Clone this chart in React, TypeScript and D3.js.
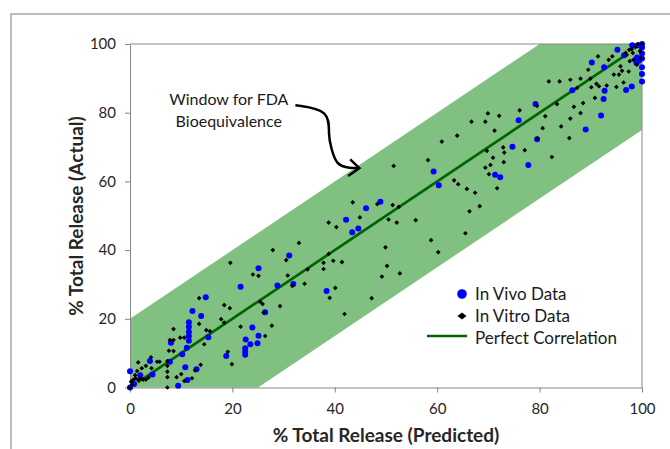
import React, { useEffect, useRef } from 'react';
import * as d3 from 'd3';

// data ------------------------------------------------------------
// [predicted %, actual %]
const inVivo: [number, number][] = [
  [0, 0], [0, 4.7], [0.8, 1.0], [2, 3.6], [3.9, 7.7], [4.4, 3.8], [7.8, 7.5], [8, 13.0],
  [9.4, 0.5], [10.2, 9.7], [10.8, 5.9], [11.2, 2.2], [11.1, 11.6], [11.5, 13.6], [11.5, 15.0],
  [11.5, 16.2], [11.5, 17.7], [11.5, 19.0], [12.2, 22.3], [13, 5.3], [13.9, 20.8], [14.8, 26.3],
  [15.3, 14.6], [18.8, 9.2], [21.6, 29.3], [22.5, 9.5], [22.5, 10.4], [22.5, 11.4], [22.6, 14.0],
  [23.5, 12.6], [23.9, 17.5], [24.9, 12.9], [25.1, 15.1], [25.1, 34.7], [26.4, 21.9], [28.8, 29.7],
  [31.1, 38.4], [31.9, 30.1], [38.4, 28.1], [42.2, 48.8], [43.4, 45.2], [44.6, 46.3], [46.1, 52.2],
  [48.9, 54.1], [59.3, 62.9], [60.3, 58.9], [71.3, 61.9], [72.3, 61.2], [74.7, 70.1], [75.9, 77.8],
  [77.8, 64.8], [79.2, 82.5], [79.5, 72.3], [86.4, 86.5], [89, 75.1], [90.2, 94.6], [92, 79.2],
  [92.5, 84], [92.7, 86.4], [92.6, 93.2], [95.2, 98.3], [96.5, 96.7], [96.9, 86.6], [98, 87.6],
  [98.1, 99.6], [99, 96.1], [99.2, 99.6], [100, 100], [100, 99], [100, 97.2], [100, 95.8],
  [100, 93.2], [100, 91.3], [100, 89.1], [99.4, 95.1], [98.9, 94.5],
];

const inVitro: [number, number][] = [
  [0, 0], [0.2, 1.7], [0.6, 2.2], [1, 3.6], [1.1, 2.7], [1.6, 2.2], [2.1, 2.7], [2.6, 2.3],
  [3.1, 2.3], [1.4, 4.8], [1.6, 7.3], [2.3, 5.6], [3.1, 6.3], [4.2, 5.6], [4.1, 8.8], [5.3, 7.5],
  [5.8, 7.5], [0.4, 0.8], [3.6, 2.9], [7.3, 7.7], [7.3, 6.3], [7.3, 4.6], [7.3, 3.0], [7.3, 0],
  [7.6, 10.7], [8.5, 10.6], [7.8, 13.8], [8.5, 13.8], [8.5, 17.0], [9.1, 3.0], [10, 3.9],
  [10.6, 1.9], [12.1, 2.7], [9.8, 14.5], [10.6, 14.5], [12.7, 5], [13.5, 26], [13.5, 18.5],
  [13.8, 6.6], [14.5, 12.6], [14.9, 16.7], [15.6, 16.4], [17.8, 19.9], [18.4, 18.9], [18.4, 24.0],
  [19.1, 10.4], [19.5, 23.1], [19.6, 36.3], [19.9, 6.8], [21.6, 17.7], [24, 32.9], [25.1, 32.5],
  [25.4, 25.0], [25.9, 24.3], [26.1, 21.8], [26.4, 15], [27.7, 18], [27.9, 40], [29.3, 23.7],
  [30.5, 37.1], [30.8, 32.6], [31.7, 29.6], [33, 42.1], [34.1, 30.2], [34.7, 34.4], [37.8, 36.3],
  [37.8, 34.5], [38.8, 38.9], [38.8, 48], [39.7, 36.9], [39, 26.1], [40.1, 29], [40.3, 46.7],
  [41.4, 36.5], [41.9, 21.4], [43.5, 53.9], [44.9, 49.5], [47.2, 26], [48.3, 53.4], [49.2, 32.3],
  [49.9, 40.8], [50.2, 35.4], [50.5, 48.9], [51.3, 53.1], [51.5, 64.5], [52.1, 48], [52.5, 52.6],
  [52.7, 33.2], [55.8, 48.7], [58.2, 66.2], [58.8, 42.9], [60.2, 39.4], [60.9, 71.6], [63.3, 60.3],
  [63.9, 73.3], [64.1, 59.2], [65.5, 44.9], [65.8, 57.8], [66.3, 51.3], [66.7, 77.4], [67.4, 56.7],
  [68.3, 52.8], [69.4, 77.4], [69.9, 79.8], [69.4, 64], [69.7, 68.9], [70.1, 62.1], [70.4, 64.8],
  [70.9, 66.9], [71.2, 74.8], [71.7, 58], [72.1, 79.1], [72.9, 69.9], [73.1, 68.4], [73, 65.6],
  [76.1, 80.7], [77.1, 69.1], [79.6, 72.5], [79.5, 82.0], [80.6, 75.5], [81.1, 79], [81.8, 89.1],
  [82.4, 67.1], [83.4, 82.5], [83.9, 89.1], [84.2, 76], [85.8, 72.6], [86, 89.6], [86, 78.3],
  [86.7, 81.7], [87.3, 87.2], [88, 89.9], [88, 79.9], [88.5, 82.8], [89.5, 92.5], [89.9, 89.9],
  [90.1, 87.4], [90.8, 84.3], [91.1, 88.4], [91.4, 96.4], [91.6, 87.7], [93.1, 87.9], [93.5, 95.4],
  [94.2, 96.4], [94.5, 91.1], [95, 87.5], [95.5, 91.1], [95.8, 93.5], [96.1, 92.2], [96.4, 88.8],
  [97.4, 92], [97.6, 95], [96.8, 97.4], [97.5, 98.3], [98.2, 97.4], [98.3, 95.4], [98.7, 99.1],
  [99, 94], [99.2, 100], [99.6, 97.9], [99.7, 95.9], [100, 100], [97, 96.8], [98, 98.5],
];

const correlationLine: [number, number][] = [[1.5, 1.5], [97, 97]];

// FDA window: actual between predicted - 25 and predicted + 20
const bandBreaks = [0, 25, 80, 100];
const bandAbove = 20;
const bandBelow = 25;

const xTicks = [0, 20, 40, 60, 80, 100];
const yTicks = [0, 20, 40, 60, 80, 100];

const legendLabels = ['In Vivo Data', 'In Vitro Data', 'Perfect Correlation'];
const annotationLines = ['Window for FDA', 'Bioequivalence'];
// arrow path in data units
const arrowCurve: [number, number][] = [[32.3, 82.2], [39.1, 80.8], [38.7, 73.5], [39.3, 69.7], [40.3, 64.8], [42.6, 63.9], [44.6, 63.9]];
const arrowHead: [number, number][] = [[43, 66.4], [44.8, 63.9], [42.6, 61.6]];

const App = () => {
  const ref = useRef<SVGSVGElement>(null);
  const [width, height] = [670, 449];
  const font = 'Lato, "Open Sans", sans-serif';

  useEffect(() => {
    draw();
  }, []);

  function draw() {
    const svg = d3.select(ref.current);
    svg.selectAll('*').remove();

    const x = d3.scaleLinear().domain([0, 100]).range([130, 642]);
    const y = d3.scaleLinear().domain([0, 100]).range([387.5, 44]);

    // outer chart frame (top and left edges only are visible)
    svg.append('path')
      .attr('d', `M11,${height} V14 H${width}`)
      .attr('fill', 'none')
      .attr('stroke', '#a8a8a8')
      .attr('stroke-width', 1.5);

    // green window
    const band = d3.area<number>()
      .x(d => x(d))
      .y0(d => y(Math.max(0, d - bandBelow)))
      .y1(d => y(Math.min(100, d + bandAbove)));
    svg.append('path')
      .datum(bandBreaks)
      .attr('d', band)
      .attr('fill', '#80c080');

    // plot border top / right
    svg.append('path')
      .attr('d', `M${x(0)},${y(100)} H${x(100)} V${y(0)}`)
      .attr('fill', 'none')
      .attr('stroke', '#868686');

    // axes
    const xAxis = svg.append('g')
      .attr('transform', `translate(0,${y(0)})`)
      .call(d3.axisBottom(x).tickValues(xTicks).tickSize(5).tickSizeOuter(0).tickPadding(11));
    const yAxis = svg.append('g')
      .attr('transform', `translate(${x(0)},0)`)
      .call(d3.axisLeft(y).tickValues(yTicks).tickSize(5).tickSizeOuter(0).tickPadding(9));
    [xAxis, yAxis].forEach(g => {
      g.selectAll('path, line').attr('stroke', '#868686');
      g.selectAll('text')
        .style('font-family', font)
        .style('font-size', '15px')
        .attr('fill', '#262626');
    });

    // perfect correlation line
    const line = d3.line<[number, number]>().x(d => x(d[0])).y(d => y(d[1]));
    svg.append('path')
      .datum(correlationLine)
      .attr('d', line)
      .attr('fill', 'none')
      .attr('stroke', '#006400')
      .attr('stroke-width', 2.7);

    // in vivo points
    svg.append('g')
      .selectAll('circle')
      .data(inVivo)
      .join('circle')
      .attr('cx', d => x(d[0]))
      .attr('cy', d => y(d[1]))
      .attr('r', 3)
      .attr('fill', '#0000ff');

    // in vitro points
    const diamond = d3.symbol().type(d3.symbolDiamond2).size(14);
    svg.append('g')
      .selectAll('path')
      .data(inVitro)
      .join('path')
      .attr('d', diamond)
      .attr('transform', d => `translate(${x(d[0])},${y(d[1])})`)
      .attr('fill', '#000');

    // annotation
    const note = svg.append('text')
      .attr('text-anchor', 'middle')
      .style('font-family', font)
      .style('font-size', '16px')
      .attr('fill', '#1a1a1a');
    annotationLines.forEach((t, i) => {
      note.append('tspan')
        .attr('x', x(19.3))
        .attr('y', y(84) + 6 + i * 22)
        .text(t);
    });
    const curve = d3.line<[number, number]>().x(d => x(d[0])).y(d => y(d[1])).curve(d3.curveBasis);
    svg.append('path')
      .datum(arrowCurve)
      .attr('d', curve)
      .attr('fill', 'none')
      .attr('stroke', '#000')
      .attr('stroke-width', 2.5);
    svg.append('path')
      .datum(arrowHead)
      .attr('d', line)
      .attr('fill', 'none')
      .attr('stroke', '#000')
      .attr('stroke-width', 2.5)
      .attr('stroke-linejoin', 'miter');

    // legend
    const legend = svg.append('g');
    const lx = 462;
    const rows = [294, 316, 338];
    legend.append('circle').attr('cx', lx).attr('cy', rows[0]).attr('r', 4.8).attr('fill', '#0000ff');
    legend.append('path')
      .attr('d', d3.symbol().type(d3.symbolDiamond2).size(44))
      .attr('transform', `translate(${lx},${rows[1]}) scale(1.1,0.85)`)
      .attr('fill', '#000');
    legend.append('line')
      .attr('x1', 427).attr('x2', 467)
      .attr('y1', rows[2] - 2).attr('y2', rows[2] - 2)
      .attr('stroke', '#006400')
      .attr('stroke-width', 2.7);
    legend.selectAll('text.lbl')
      .data(legendLabels)
      .join('text')
      .attr('class', 'lbl')
      .attr('x', 475)
      .attr('y', (d, i) => rows[i] + 6)
      .style('font-family', font)
      .style('font-size', '17px')
      .attr('fill', '#1a1a1a')
      .text(d => d);

    // axis titles
    svg.append('text')
      .attr('x', 386)
      .attr('y', 442)
      .attr('text-anchor', 'middle')
      .style('font-family', font)
      .style('font-size', '19px')
      .style('font-weight', 'bold')
      .attr('fill', '#262626')
      .text('% Total Release (Predicted)');
    svg.append('text')
      .attr('transform', 'translate(83,216) rotate(-90)')
      .attr('text-anchor', 'middle')
      .style('font-family', font)
      .style('font-size', '19px')
      .style('font-weight', 'bold')
      .attr('fill', '#262626')
      .text('% Total Release (Actual)');
  }

  return (
    <svg
      ref={ref}
      width={width}
      height={height}
      style={{ position: 'absolute', left: 0, top: 0, background: '#fff' }}
    />
  );
};

export default App;
